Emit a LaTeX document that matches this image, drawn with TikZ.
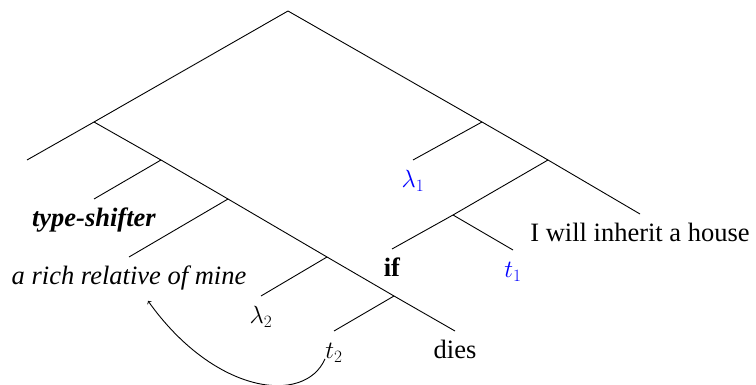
\documentclass[tikz,border=0pt]{standalone}
\usepackage[no-math]{fontspec}
\setmainfont{Liberation Serif}
\begin{document}
\begin{tikzpicture}[x=1pt,y=-1pt,line width=0.9pt,
  leaf/.style={anchor=north,inner xsep=0pt,inner ysep=9.5pt,text height=18pt,text depth=6pt,font=\fontsize{26.5}{30}\selectfont},
  mleaf/.style={leaf,font=\fontsize{23.5}{28}\selectfont},
  trace/.style={text=blue}]
\useasboundingbox (0,0) rectangle (756,385);
% internal points of the tree
\coordinate (R) at (288,11);
\coordinate (A) at (94,122);
\coordinate (B) at (482,122);
\coordinate (Aleaf) at (27,160);
\coordinate (C) at (161,160);
\coordinate (D) at (228,199);
\coordinate (E) at (327,257);
\coordinate (F) at (394,296);
\coordinate (G) at (548,160);
\coordinate (H) at (453,215);
% leaves
\node[leaf] (ts) at (94,199) {\textbf{\textit{type-shifter}}};
\node[leaf] (rich) at (129,257) {\textit{a rich relative of mine}};
\node[mleaf] (l2) at (261,296) {$\lambda_2$};
\node[mleaf] (t2) at (334,331) {$t_2$};
\node[leaf] (dies) at (455,331) {dies};
\node[mleaf,trace] (l1) at (413,160) {$\lambda_1$};
\node[leaf] (house) at (640,214) {I will inherit a house};
\node[leaf] (if) at (392,249) {\textbf{if}};
\node[mleaf,trace] (t1) at (513,250) {$t_1$};
% edges
\draw (R) -- (A);
\draw (R) -- (B);
\draw (A) -- (Aleaf);
\draw (A) -- (C);
\draw (C) -- (ts.north);
\draw (C) -- (D);
\draw (D) -- (rich.north);
\draw (D) -- (E);
\draw (E) -- (l2.north);
\draw (E) -- (F);
\draw (F) -- (t2.north);
\draw (F) -- (dies.north);
\draw (B) -- (l1.north);
\draw (B) -- (G);
\draw (G) -- (H);
\draw (G) -- (house.north);
\draw (H) -- (if.north);
\draw (H) -- (t1.north);
% movement arrow
\draw[->] (t2.base west) .. controls (305,405) and (215,395) .. ([xshift=19pt]rich.south);
\end{tikzpicture}
\end{document}
